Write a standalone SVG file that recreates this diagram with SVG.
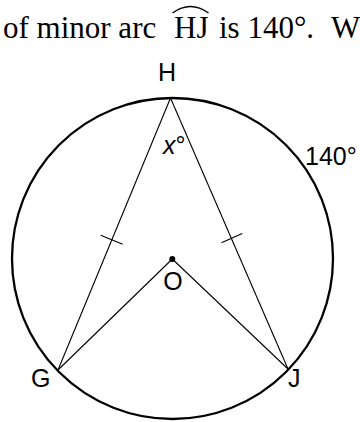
<svg xmlns="http://www.w3.org/2000/svg" width="360" height="422" viewBox="0 0 360 422">
<style>
.q{font-family:"Liberation Serif","Times New Roman",serif;font-size:31px;fill:#000}
.lbl{font-family:"Liberation Sans",Arial,sans-serif;font-size:25px;fill:#000}
.seg{stroke:#000;stroke-width:1.1;fill:none}
.circ{stroke:#000;stroke-width:2.3;fill:none}
</style>
<rect width="360" height="422" fill="#fff"/>
<g id="question">
<text class="q" x="3" y="38">of minor arc</text>
<text class="q" x="174" y="38">HJ</text>
<path d="M172.5,13 Q190.5,0 208.5,13" fill="none" stroke="#000" stroke-width="1.5"/>
<text class="q" x="219" y="38">is 140°.</text>
<text class="q" x="331" y="38">W</text>
</g>
<g id="circle">
<circle class="circ" cx="172.5" cy="258.5" r="160.5"/>
</g>
<g id="connectors">
<line class="seg" x1="170.5" y1="98" x2="58" y2="370"/>
<line class="seg" x1="170.5" y1="98" x2="288" y2="369"/>
<line class="seg" x1="172.3" y1="259" x2="58" y2="370"/>
<line class="seg" x1="172.3" y1="259" x2="288" y2="369"/>
<line class="seg" x1="100.7" y1="235.3" x2="122.7" y2="244.3"/>
<line class="seg" x1="221.5" y1="242.8" x2="242.3" y2="233.5"/>
</g>
<g id="node-H">
<text class="lbl" x="167" y="81" text-anchor="middle">H</text>
<text class="lbl" x="163" y="154"><tspan font-style="italic">x</tspan>°</text>
</g>
<g id="node-O">
<circle cx="172.3" cy="259" r="3" fill="#000"/>
<text class="lbl" x="173" y="290" text-anchor="middle">O</text>
</g>
<g id="node-G">
<text class="lbl" x="31" y="387">G</text>
</g>
<g id="node-J">
<text class="lbl" x="288" y="387">J</text>
</g>
<g id="arc-label">
<text class="lbl" x="305" y="165">140°</text>
</g>
</svg>
